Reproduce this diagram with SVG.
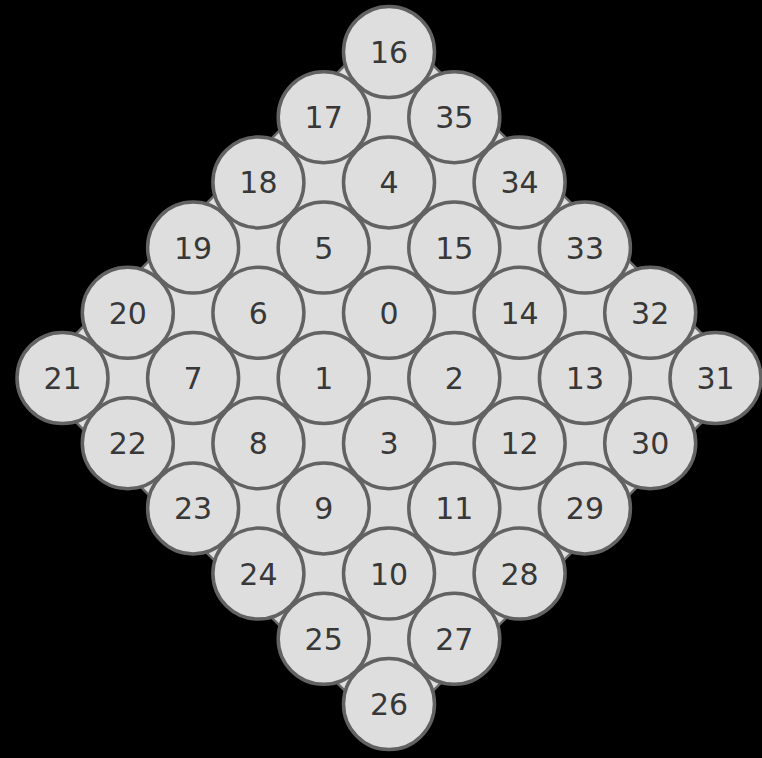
<svg xmlns="http://www.w3.org/2000/svg" width="762" height="758" viewBox="0 0 762 758">
<style>
.n circle{fill:#dedede;stroke:#626262;stroke-width:3.5}
.n text{font-family:"DejaVu Sans",sans-serif;font-size:30px;fill:#383838;text-anchor:middle}
</style>
<rect width="762" height="758" fill="#000"/>
<g id="blob">
<polygon points="389,52 62.5,378 389,704 715.5,378" fill="#6a6a6a" stroke="#6a6a6a" stroke-width="46" stroke-linejoin="round"/>
<polygon points="389,52 62.5,378 389,704 715.5,378" fill="#dedede" stroke="#dedede" stroke-width="41" stroke-linejoin="round"/>
</g>
<g id="connectors"></g>
<g id="nodes">
<g id="n16" class="n"><circle cx="389" cy="52" r="45.5"/><text x="389" y="63">16</text></g>
<g id="n17" class="n"><circle cx="323.7" cy="117.2" r="45.5"/><text x="323.7" y="128.2">17</text></g>
<g id="n35" class="n"><circle cx="454.3" cy="117.2" r="45.5"/><text x="454.3" y="128.2">35</text></g>
<g id="n18" class="n"><circle cx="258.4" cy="182.4" r="45.5"/><text x="258.4" y="193.4">18</text></g>
<g id="n4" class="n"><circle cx="389" cy="182.4" r="45.5"/><text x="389" y="193.4">4</text></g>
<g id="n34" class="n"><circle cx="519.6" cy="182.4" r="45.5"/><text x="519.6" y="193.4">34</text></g>
<g id="n19" class="n"><circle cx="193.1" cy="247.6" r="45.5"/><text x="193.1" y="258.6">19</text></g>
<g id="n5" class="n"><circle cx="323.7" cy="247.6" r="45.5"/><text x="323.7" y="258.6">5</text></g>
<g id="n15" class="n"><circle cx="454.3" cy="247.6" r="45.5"/><text x="454.3" y="258.6">15</text></g>
<g id="n33" class="n"><circle cx="584.9" cy="247.6" r="45.5"/><text x="584.9" y="258.6">33</text></g>
<g id="n20" class="n"><circle cx="127.8" cy="312.8" r="45.5"/><text x="127.8" y="323.8">20</text></g>
<g id="n6" class="n"><circle cx="258.4" cy="312.8" r="45.5"/><text x="258.4" y="323.8">6</text></g>
<g id="n0" class="n"><circle cx="389" cy="312.8" r="45.5"/><text x="389" y="323.8">0</text></g>
<g id="n14" class="n"><circle cx="519.6" cy="312.8" r="45.5"/><text x="519.6" y="323.8">14</text></g>
<g id="n32" class="n"><circle cx="650.2" cy="312.8" r="45.5"/><text x="650.2" y="323.8">32</text></g>
<g id="n21" class="n"><circle cx="62.5" cy="378" r="45.5"/><text x="62.5" y="389">21</text></g>
<g id="n7" class="n"><circle cx="193.1" cy="378" r="45.5"/><text x="193.1" y="389">7</text></g>
<g id="n1" class="n"><circle cx="323.7" cy="378" r="45.5"/><text x="323.7" y="389">1</text></g>
<g id="n2" class="n"><circle cx="454.3" cy="378" r="45.5"/><text x="454.3" y="389">2</text></g>
<g id="n13" class="n"><circle cx="584.9" cy="378" r="45.5"/><text x="584.9" y="389">13</text></g>
<g id="n31" class="n"><circle cx="715.5" cy="378" r="45.5"/><text x="715.5" y="389">31</text></g>
<g id="n22" class="n"><circle cx="127.8" cy="443.2" r="45.5"/><text x="127.8" y="454.2">22</text></g>
<g id="n8" class="n"><circle cx="258.4" cy="443.2" r="45.5"/><text x="258.4" y="454.2">8</text></g>
<g id="n3" class="n"><circle cx="389" cy="443.2" r="45.5"/><text x="389" y="454.2">3</text></g>
<g id="n12" class="n"><circle cx="519.6" cy="443.2" r="45.5"/><text x="519.6" y="454.2">12</text></g>
<g id="n30" class="n"><circle cx="650.2" cy="443.2" r="45.5"/><text x="650.2" y="454.2">30</text></g>
<g id="n23" class="n"><circle cx="193.1" cy="508.4" r="45.5"/><text x="193.1" y="519.4">23</text></g>
<g id="n9" class="n"><circle cx="323.7" cy="508.4" r="45.5"/><text x="323.7" y="519.4">9</text></g>
<g id="n11" class="n"><circle cx="454.3" cy="508.4" r="45.5"/><text x="454.3" y="519.4">11</text></g>
<g id="n29" class="n"><circle cx="584.9" cy="508.4" r="45.5"/><text x="584.9" y="519.4">29</text></g>
<g id="n24" class="n"><circle cx="258.4" cy="573.6" r="45.5"/><text x="258.4" y="584.6">24</text></g>
<g id="n10" class="n"><circle cx="389" cy="573.6" r="45.5"/><text x="389" y="584.6">10</text></g>
<g id="n28" class="n"><circle cx="519.6" cy="573.6" r="45.5"/><text x="519.6" y="584.6">28</text></g>
<g id="n25" class="n"><circle cx="323.7" cy="638.8" r="45.5"/><text x="323.7" y="649.8">25</text></g>
<g id="n27" class="n"><circle cx="454.3" cy="638.8" r="45.5"/><text x="454.3" y="649.8">27</text></g>
<g id="n26" class="n"><circle cx="389" cy="704" r="45.5"/><text x="389" y="715">26</text></g>
</g>
</svg>
